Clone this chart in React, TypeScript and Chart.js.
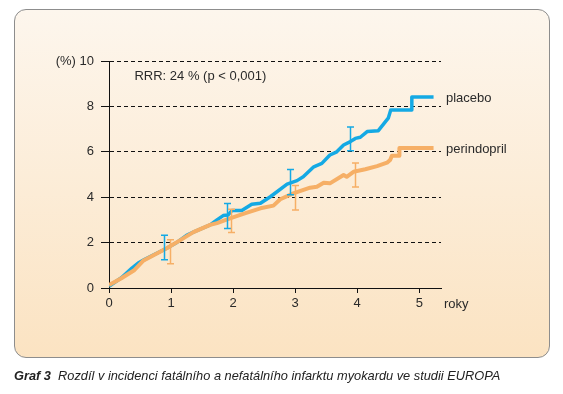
import React, { useEffect, useRef } from "react";
import { Chart, registerables } from "chart.js";

Chart.register(...registerables);

// ---- data ----
const placeboX = [0, 0.2, 0.37, 0.47, 0.57, 0.93, 1.1, 1.25, 1.36, 1.63, 1.74, 1.84, 1.92, 1.98, 2.14, 2.3, 2.44, 2.6, 2.87, 3.03, 3.13, 3.3, 3.43, 3.56, 3.67, 3.78, 3.89, 3.97, 4.05, 4.16, 4.34, 4.5, 4.54, 4.88, 4.88, 5.23];
const placeboY = [0.08, 0.45, 0.88, 1.1, 1.25, 1.75, 2.02, 2.32, 2.46, 2.78, 3.0, 3.19, 3.22, 3.41, 3.41, 3.69, 3.73, 4.02, 4.58, 4.73, 4.9, 5.34, 5.49, 5.86, 6.0, 6.3, 6.45, 6.59, 6.64, 6.89, 6.93, 7.48, 7.84, 7.84, 8.41, 8.41];

const perindoprilX = [0, 0.2, 0.4, 0.55, 0.93, 1.15, 1.36, 1.63, 1.74, 1.95, 2.2, 2.44, 2.65, 2.76, 2.97, 3.24, 3.35, 3.46, 3.56, 3.78, 3.83, 3.94, 4.13, 4.32, 4.48, 4.53, 4.56, 4.68, 4.68, 5.23];
const perindoprilY = [0.13, 0.43, 0.77, 1.2, 1.75, 2.11, 2.46, 2.78, 2.86, 3.07, 3.3, 3.51, 3.63, 3.91, 4.17, 4.42, 4.46, 4.64, 4.61, 4.98, 4.9, 5.12, 5.23, 5.37, 5.52, 5.64, 5.83, 5.83, 6.17, 6.17];

const placeboErrX = [0.89, 1.9, 2.91, 3.89];
const placeboErrLo = [1.25, 2.62, 4.11, 6.05];
const placeboErrHi = [2.32, 3.72, 5.22, 7.09];

const perindoprilErrX = [0.98, 1.97, 2.99, 3.97];
const perindoprilErrLo = [1.07, 2.45, 3.44, 4.45];
const perindoprilErrHi = [2.13, 3.47, 4.51, 5.51];

const yTicks = [0, 2, 4, 6, 8, 10];
const xTicks = [0, 1, 2, 3, 4, 5];

const seriesNames = ["placebo", "perindopril"];
const annotation = "RRR: 24 % (p < 0,001)";
const xUnit = "roky";
const yUnit = "(%)";
const captionBold = "Graf 3";
const captionText = "Rozdíl v incidenci fatálního a nefatálního infarktu myokardu ve studii EUROPA";

const BLUE = "#14a9e4";
const ORANGE = "#f6af66";
const FONT = "'Liberation Sans', Arial, sans-serif";

const errorBarPlugin = {
  id: "errorBars",
  afterDatasetsDraw(chart: any) {
    const ctx = chart.ctx;
    const xs = chart.scales.x;
    const ys = chart.scales.y;
    const groups = [
      { xv: placeboErrX, lo: placeboErrLo, hi: placeboErrHi, color: BLUE },
      { xv: perindoprilErrX, lo: perindoprilErrLo, hi: perindoprilErrHi, color: ORANGE },
    ];
    ctx.save();
    ctx.lineWidth = 1.5;
    groups.forEach((g) => {
      ctx.strokeStyle = g.color;
      g.xv.forEach((xv, i) => {
        const px = Math.round(xs.getPixelForValue(xv)) + 0.5;
        const p1 = ys.getPixelForValue(g.lo[i]);
        const p2 = ys.getPixelForValue(g.hi[i]);
        ctx.beginPath();
        ctx.moveTo(px, p1);
        ctx.lineTo(px, p2);
        ctx.moveTo(px - 3.5, p1);
        ctx.lineTo(px + 3.5, p1);
        ctx.moveTo(px - 3.5, p2);
        ctx.lineTo(px + 3.5, p2);
        ctx.stroke();
      });
    });
    ctx.restore();
  },
  afterDraw(chart: any) {
    const ctx = chart.ctx;
    const xs = chart.scales.x;
    const ys = chart.scales.y;
    const area = chart.chartArea;
    ctx.save();
    ctx.fillStyle = "#2a2a2a";
    ctx.font = `13px ${FONT}`;
    ctx.textBaseline = "middle";
    ctx.textAlign = "left";
    ctx.fillText(annotation, xs.getPixelForValue(0.41), ys.getPixelForValue(9.3));
    const lastP = placeboY[placeboY.length - 1];
    const lastQ = perindoprilY[perindoprilY.length - 1];
    ctx.fillText(seriesNames[0], area.right + 5, ys.getPixelForValue(lastP) + 1);
    ctx.fillText(seriesNames[1], area.right + 5, ys.getPixelForValue(lastQ) + 1);
    ctx.fillText(xUnit, area.right + 3, area.bottom + 16);
    ctx.restore();
  },
};

export default function App() {
  const ref = useRef<HTMLCanvasElement | null>(null);

  useEffect(() => {
    if (!ref.current) return;
    const chart = new Chart(ref.current, {
      type: "line",
      data: {
        datasets: [
          {
            label: seriesNames[0],
            data: placeboX.map((x, i) => ({ x, y: placeboY[i] })),
            borderColor: BLUE,
            borderWidth: 3.5,
            pointRadius: 0,
            tension: 0,
            borderJoinStyle: "round",
            fill: false,
            order: 2,
          },
          {
            label: seriesNames[1],
            data: perindoprilX.map((x, i) => ({ x, y: perindoprilY[i] })),
            borderColor: ORANGE,
            borderWidth: 4,
            pointRadius: 0,
            tension: 0,
            borderJoinStyle: "round",
            fill: false,
            order: 1,
          },
        ],
      },
      options: {
        animation: false,
        responsive: false,
        devicePixelRatio: 1,
        layout: { padding: { left: 0, top: 61, right: 122, bottom: 0 } },
        plugins: { legend: { display: false }, tooltip: { enabled: false } },
        scales: {
          x: {
            type: "linear",
            min: 0,
            max: 5.35,
            afterFit: (s: any) => {
              s.height = 106;
            },
            afterBuildTicks: (s: any) => {
              s.ticks = xTicks.map((v) => ({ value: v }));
            },
            grid: {
              drawOnChartArea: false,
              drawTicks: true,
              tickLength: 5,
              color: "#111",
              tickColor: "#111",
              lineWidth: 1,
            },
            border: { display: true, color: "#111", width: 1 },
            ticks: {
              color: "#2a2a2a",
              font: { family: FONT, size: 13 },
              padding: 3,
              maxRotation: 0,
            },
          },
          y: {
            type: "linear",
            min: 0,
            max: 10,
            afterFit: (s: any) => {
              s.width = 109;
            },
            afterBuildTicks: (s: any) => {
              s.ticks = yTicks.map((v) => ({ value: v }));
            },
            grid: {
              drawOnChartArea: true,
              drawTicks: true,
              tickLength: 8,
              color: "#111",
              tickColor: "#111",
              lineWidth: 1,
              tickBorderDash: [1, 0],
            },
            border: { display: true, color: "#111", width: 1, dash: [4, 3] },
            ticks: {
              color: "#2a2a2a",
              font: { family: FONT, size: 13 },
              padding: 7,
              callback: (v: any) => (v === 10 ? `${yUnit} ${v}` : `${v}`),
            },
          },
        },
      },
      plugins: [errorBarPlugin],
    } as any);
    return () => chart.destroy();
  }, []);

  return (
    <div style={{ position: "absolute", left: 0, top: 0, width: 563, height: 394, background: "#fff", overflow: "hidden" }}>
      <div
        style={{
          position: "absolute",
          left: 14,
          top: 9,
          width: 534,
          height: 347,
          border: "1px solid #8d8d8d",
          borderRadius: 12,
          background: "linear-gradient(#fdf6ed, #fbe3c2)",
        }}
      />
      <canvas ref={ref} width={563} height={394} style={{ position: "absolute", left: 0, top: 0, width: 563, height: 394 }} />
      <div
        style={{
          position: "absolute",
          left: 14,
          top: 368,
          fontFamily: FONT,
          fontSize: 12.8,
          lineHeight: "16px",
          fontStyle: "italic",
          color: "#222",
          whiteSpace: "pre",
        }}
      >
        <span style={{ fontWeight: "bold" }}>{captionBold}</span>
        {"  " + captionText}
      </div>
    </div>
  );
}
